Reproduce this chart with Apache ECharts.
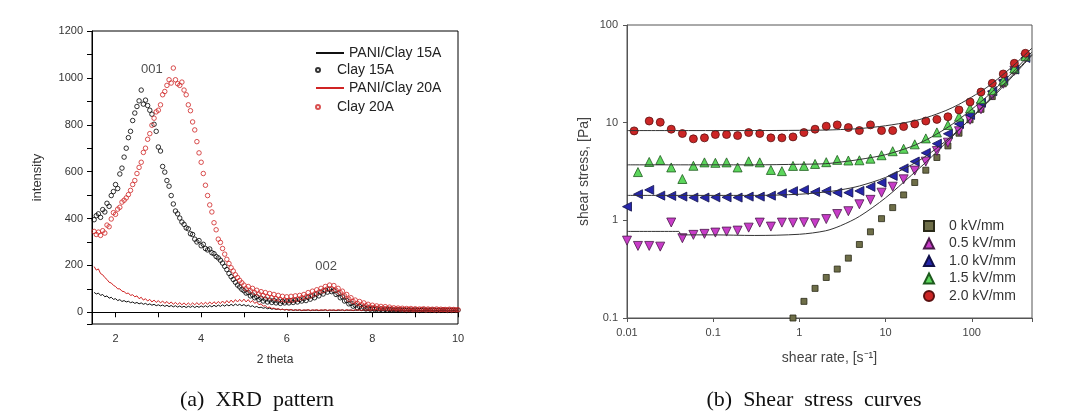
<!DOCTYPE html>
<html><head><meta charset="utf-8">
<script src="https://cdn.jsdelivr.net/npm/echarts@6/dist/echarts.min.js"></script>
<style>html,body{margin:0;padding:0;background:#fff}#c{width:1065px;height:412px}</style>
</head><body><div id="c"></div>
<script>
// ---------- (a) XRD pattern ----------
const theta = [
1.5,1.55,1.6,1.65,1.7,1.75,1.8,1.85,1.9,1.95,
2,2.05,2.1,2.15,2.2,2.25,2.3,2.35,2.4,2.45,
2.5,2.55,2.6,2.65,2.7,2.75,2.8,2.85,2.9,2.95,
3,3.05,3.1,3.15,3.2,3.25,3.3,3.35,3.4,3.45,
3.5,3.55,3.6,3.65,3.7,3.75,3.8,3.85,3.9,3.95,
4,4.05,4.1,4.15,4.2,4.25,4.3,4.35,4.4,4.45,
4.5,4.55,4.6,4.65,4.7,4.75,4.8,4.85,4.9,4.95,
5,5.05,5.1,5.15,5.2,5.25,5.3,5.35,5.4,5.45,
5.5,5.55,5.6,5.65,5.7,5.75,5.8,5.85,5.9,5.95,
6,6.05,6.1,6.15,6.2,6.25,6.3,6.35,6.4,6.45,
6.5,6.55,6.6,6.65,6.7,6.75,6.8,6.85,6.9,6.95,
7,7.05,7.1,7.15,7.2,7.25,7.3,7.35,7.4,7.45,
7.5,7.55,7.6,7.65,7.7,7.75,7.8,7.85,7.9,7.95,
8,8.05,8.1,8.15,8.2,8.25,8.3,8.35,8.4,8.45,
8.5,8.55,8.6,8.65,8.7,8.75,8.8,8.85,8.9,8.95,
9,9.05,9.1,9.15,9.2,9.25,9.3,9.35,9.4,9.45,
9.5,9.55,9.6,9.65,9.7,9.75,9.8,9.85,9.9,9.95,
10];
const paniClay15A = [
85,78,82,72,76,66,70,60,64,55,
58,50,54,46,50,44,47,41,44,38,
42,36,40,34,38,32,36,30,34,28,
32,27,31,25,30,24,29,23,28,22,
27,21,26,20,26,21,27,20,26,21,
27,22,28,22,29,23,30,24,31,25,
32,26,33,27,34,28,35,29,34,28,
33,26,31,24,28,21,25,19,22,17,
20,15,18,13,16,12,14,11,13,10,
12,9,11,8,10,8,10,7,9,8,
10,7,9,8,9,7,9,8,10,7,
9,8,9,7,9,8,10,7,9,8,
9,7,9,8,10,7,9,8,9,7,
9,8,9,7,9,8,10,7,9,8,
9,7,9,8,10,7,9,8,9,7,
9,8,9,7,9,8,10,7,9,8,
9,7,9,8,10,7,9,8,9,7,
9];
const clay15A = [
395,412,420,405,438,428,465,452,498,515,
545,528,590,615,662,700,745,772,818,850,
878,902,948,888,905,882,862,845,802,772,
705,688,622,598,562,538,498,462,432,420,
402,385,375,360,356,335,332,312,300,306,
284,290,272,266,270,254,250,238,232,222,
210,196,182,166,152,140,128,116,108,98,
92,82,84,70,74,62,66,54,60,48,
56,44,52,42,50,40,48,38,46,40,
48,40,50,42,52,44,54,48,58,50,
64,56,70,62,78,70,86,78,94,86,
98,88,92,76,80,62,66,48,50,36,
38,26,30,20,25,17,21,14,18,13,
17,12,15,10,14,9,13,9,12,10,
10,9,11,10,9,10,8,10,9,8,
10,9,8,9,10,8,9,8,10,9,
8,9,8,10,9,8,9,8,9,8,
9];
const paniClay20A = [
195,180,185,165,160,148,140,128,125,115,
110,100,100,90,88,80,82,72,75,66,
70,58,64,52,58,48,55,44,52,42,
50,40,48,38,46,36,44,34,42,33,
41,32,40,31,40,31,40,32,41,32,
42,33,43,34,44,35,45,36,46,37,
48,38,50,40,52,42,54,44,55,45,
56,44,54,42,50,38,44,32,36,26,
28,20,22,16,18,13,15,11,13,10,
12,9,12,8,11,9,11,8,10,9,
11,8,10,9,11,8,10,9,11,8,
10,9,10,8,11,9,10,8,11,9,
10,8,11,9,10,8,11,9,10,8,
10,9,11,8,10,9,11,8,10,9,
11,8,10,9,11,8,10,9,11,8,
10,9,11,8,10,9,11,8,10,9,
11,8,10,9,11,8,10,9,11,8,
10];
const clay20A = [
345,332,342,328,348,338,372,365,398,425,
418,440,448,470,478,488,502,520,545,562,
592,618,640,682,700,738,762,798,828,855,
862,885,928,942,968,992,978,1042,992,975,
968,982,948,928,885,860,812,778,728,680,
640,592,542,498,458,428,382,352,312,298,
272,248,226,208,190,176,160,148,136,126,
116,100,110,92,102,84,94,78,88,72,
84,66,80,62,76,58,72,54,68,52,
66,50,68,52,70,56,72,62,76,66,
84,70,90,78,96,86,102,92,110,100,
116,100,114,94,102,84,90,70,76,56,
62,46,52,38,46,32,40,28,34,22,
30,20,27,18,25,17,24,16,22,15,
19,14,18,13,17,12,16,12,16,11,
15,11,14,12,15,10,14,11,13,10,
14,10,13,11,12,10,13,10,12,10,
11];
const xrdXTicks = ['2','4','6','8','10'];
const xrdYTicks = ['0','200','400','600','800','1000','1200'];
const peakLabels = [[2.85, 1038, '001'], [6.92, 196, '002']];

// ---------- (b) Shear stress curves ----------
const rate0 = [0.843,1.13,1.52,2.05,2.75,3.70,4.97,6.68,8.98,12.1,16.2,21.8,29.3,39.4,52.9,71.1,95.6,128,173,232,312,419];
const stress0 = [0.1,0.148,0.201,0.26,0.317,0.41,0.566,0.763,1.04,1.35,1.82,2.44,3.26,4.4,5.78,7.8,10.7,13.7,18.5,25,34,47];
const rate05 = [0.01,0.0134,0.0181,0.0243,0.0326,0.0439,0.0589,0.0792,0.106,0.143,0.192,0.258,0.347,0.467,0.627,0.843,1.13,1.52,2.05,2.75,3.70,4.97,6.68,8.98,12.1,16.2,21.8,29.3,39.4,52.9,71.1,95.6,128,173,232,312,419];
const stress05 = [0.62,0.547,0.547,0.538,0.95,0.656,0.71,0.727,0.749,0.767,0.785,0.842,0.948,0.863,0.948,0.945,0.955,0.933,1.03,1.16,1.24,1.46,1.62,1.92,2.21,2.63,3.23,3.99,5.13,6.24,8.17,10.7,13.7,19,25,34,46];
const rate10 = [0.01,0.0134,0.0181,0.0243,0.0326,0.0439,0.0589,0.0792,0.106,0.143,0.192,0.258,0.347,0.467,0.627,0.843,1.13,1.52,2.05,2.75,3.70,4.97,6.68,8.98,12.1,16.2,21.8,29.3,39.4,52.9,71.1,95.6,128,173,232,312,419];
const stress10 = [1.38,1.85,2.05,1.79,1.78,1.75,1.71,1.71,1.72,1.72,1.71,1.75,1.75,1.79,1.89,1.99,2.05,1.95,2.0,1.92,1.92,2.0,2.2,2.43,2.85,3.4,4.0,4.9,6.1,7.7,9.7,12,16,21,27,35,46];
const rate15 = [0.0134,0.0181,0.0243,0.0326,0.0439,0.0589,0.0792,0.106,0.143,0.192,0.258,0.347,0.467,0.627,0.843,1.13,1.52,2.05,2.75,3.70,4.97,6.68,8.98,12.1,16.2,21.8,29.3,39.4,52.9,71.1,95.6,128,173,232,312,419];
const stress15 = [3.12,3.96,4.15,3.48,2.65,3.62,3.92,3.88,3.92,3.48,4.02,3.92,3.28,3.19,3.61,3.61,3.78,3.94,4.16,4.1,4.12,4.28,4.64,5.1,5.4,6.0,6.9,7.95,9.46,11.5,14.0,17.5,21.5,27,36,48];
const rate20 = [0.0121,0.0181,0.0243,0.0326,0.0439,0.0589,0.0792,0.106,0.143,0.192,0.258,0.347,0.467,0.627,0.843,1.13,1.52,2.05,2.75,3.70,4.97,6.68,8.98,12.1,16.2,21.8,29.3,39.4,52.9,71.1,95.6,128,173,232,312,419];
const stress20 = [8.24,10.4,10.1,8.57,7.74,6.83,6.99,7.56,7.56,7.38,7.92,7.74,6.99,6.99,7.15,7.92,8.57,9.2,9.49,8.91,8.3,9.49,8.3,8.3,9.12,9.71,10.4,10.8,11.5,13.5,16.3,20.6,25.3,31.5,40.5,51.3];
const fitRate = [0.01,0.04,0.042,0.1,0.3,1,2,3,5,10,20,30,50,70,100,150,200,300,500];
const fit05 = [0.77,0.77,0.71,0.71,0.7,0.72,0.78,0.88,1.1,1.7,2.9,4.0,6.2,8.3,11.4,16.3,21.3,31,50];
const fit10 = [1.8,1.8,1.8,1.8,1.8,1.85,1.95,2.05,2.25,2.75,3.7,4.6,6.5,8.4,11.2,15.8,20.5,30,49];
const fit15 = [3.7,3.7,3.7,3.7,3.7,3.75,3.8,3.95,4.2,4.7,5.7,6.7,8.7,10.7,13.7,18.5,23.5,33,53];
const fit20 = [8.3,8.3,8.3,8.3,8.3,8.35,8.4,8.5,8.7,9.3,10.3,11.3,13.3,15.3,18.3,23,28,38,58];
const rateTicks = ['0.01','0.1','1','10','100'];
const stressTicks = ['0.1','1','10','100'];
const fieldNames = ['0 kV/mm','0.5 kV/mm','1.0 kV/mm','1.5 kV/mm','2.0 kV/mm'];

const FONT = '"Liberation Sans", Arial, sans-serif';
const zip = (xs, ys) => xs.map((x, i) => [x, ys[i]]);
const fmtNum = v => String(Math.round(v * 10000) / 10000);

const chart = echarts.init(document.getElementById('c'), null, {renderer: 'canvas'});

const sym = (name, rateArr, stressArr, shape, rot, size, fill, border) => ({
  name, type: 'scatter', xAxisIndex: 1, yAxisIndex: 1,
  data: zip(rateArr, stressArr), symbol: shape, symbolRotate: rot, symbolSize: size,
  itemStyle: {color: fill, borderColor: border, borderWidth: 0.8, opacity: 1}
});
const fitLine = (ys) => ({
  type: 'line', xAxisIndex: 1, yAxisIndex: 1, data: zip(fitRate, ys), symbol: 'none',
  smooth: 0.3, silent: true, lineStyle: {color: '#333', width: 1}, z: 3
});
const legTxt = {fontSize: 14, color: '#222', fontFamily: FONT, lineHeight: 14};
const hiddenSym = {color: 'rgba(0,0,0,0)', borderColor: 'rgba(0,0,0,0)', borderWidth: 0, opacity: 0};

const option = {
  backgroundColor: '#fff',
  animation: false,
  grid: [
    {left: 92, top: 31, width: 366, height: 293, show: true, borderColor: '#000', borderWidth: 1},
    {left: 627, top: 25, width: 405, height: 293, show: true, borderColor: '#555', borderWidth: 1}
  ],
  xAxis: [
    {type: 'value', gridIndex: 0, min: 1.45, max: 10, splitNumber: 9,
     axisLine: {lineStyle: {color: '#000', width: 1}},
     axisTick: {inside: false, length: 5, lineStyle: {color: '#000'}},
     axisLabel: {color: '#333', fontSize: 11, fontFamily: FONT, margin: 9,
       formatter: v => xrdXTicks.includes(fmtNum(v)) ? fmtNum(v) : ''},
     splitLine: {show: false},
     name: '2 theta', nameLocation: 'middle', nameGap: 30,
     nameTextStyle: {color: '#333', fontSize: 12, fontFamily: FONT}},
    {type: 'log', gridIndex: 1, min: 0.01, max: 500, logBase: 10,
     axisLine: {lineStyle: {color: '#555', width: 1}},
     axisTick: {inside: false, length: 4, lineStyle: {color: '#555'}},
     axisLabel: {color: '#444', fontSize: 11, fontFamily: FONT, margin: 9,
       formatter: v => rateTicks.includes(fmtNum(v)) ? fmtNum(v) : ''},
     splitLine: {show: false}, minorTick: {show: false},
     name: 'shear rate, [s\u207B\u00B9]', nameLocation: 'middle', nameGap: 33,
     nameTextStyle: {color: '#444', fontSize: 14, fontFamily: FONT}}
  ],
  yAxis: [
    {type: 'value', gridIndex: 0, min: -50, max: 1200, splitNumber: 12,
     axisLine: {lineStyle: {color: '#000', width: 1}},
     axisTick: {inside: false, length: 5, lineStyle: {color: '#000'}},
     axisLabel: {color: '#333', fontSize: 11, fontFamily: FONT, margin: 9,
       formatter: v => xrdYTicks.includes(fmtNum(v)) ? fmtNum(v) : ''},
     splitLine: {show: false},
     name: 'intensity', nameLocation: 'middle', nameGap: 48, nameRotate: 90,
     nameTextStyle: {color: '#333', fontSize: 13, fontFamily: FONT}},
    {type: 'log', gridIndex: 1, min: 0.1, max: 100, logBase: 10,
     axisLine: {lineStyle: {color: '#555', width: 1}},
     axisTick: {inside: false, length: 4, lineStyle: {color: '#555'}},
     axisLabel: {color: '#444', fontSize: 11, fontFamily: FONT, margin: 9,
       formatter: v => stressTicks.includes(fmtNum(v)) ? fmtNum(v) : ''},
     splitLine: {show: false}, minorTick: {show: false},
     name: 'shear stress, [Pa]', nameLocation: 'middle', nameGap: 36, nameRotate: 90,
     nameTextStyle: {color: '#444', fontSize: 14, fontFamily: FONT}}
  ],
  legend: [
    {data: ['PANI/Clay 15A'], left: 315, top: 46, padding: 0, orient: 'vertical', itemWidth: 28, itemHeight: 14,
     itemStyle: hiddenSym, selectedMode: false, textStyle: legTxt},
    {data: ['Clay 15A'], left: 315, top: 63, padding: 0, orient: 'vertical', itemWidth: 28, itemHeight: 4,
     selectedMode: false, textStyle: legTxt},
    {data: ['PANI/Clay 20A'], left: 315, top: 81, padding: 0, orient: 'vertical', itemWidth: 28, itemHeight: 14,
     itemStyle: hiddenSym, selectedMode: false, textStyle: legTxt},
    {data: ['Clay 20A'], left: 315, top: 100, padding: 0, orient: 'vertical', itemWidth: 28, itemHeight: 4,
     selectedMode: false, textStyle: legTxt},
    {data: fieldNames, left: 923, top: 219, padding: 0, orient: 'vertical', itemWidth: 10, itemHeight: 10, itemGap: 3.5,
     selectedMode: false,
     textStyle: {fontSize: 14, color: '#333', fontFamily: FONT, lineHeight: 14, padding: [0, 0, 0, 10]}}
  ],
  series: [
    {name: 'PANI/Clay 15A', type: 'line', xAxisIndex: 0, yAxisIndex: 0, data: zip(theta, paniClay15A),
     symbol: 'none', lineStyle: {color: '#111', width: 1}, itemStyle: {color: '#111'}},
    {name: 'Clay 15A', type: 'scatter', xAxisIndex: 0, yAxisIndex: 0, data: zip(theta, clay15A),
     symbol: 'circle', symbolSize: 4.5,
     itemStyle: {color: 'rgba(255,255,255,0)', borderColor: '#000', borderWidth: 1}},
    {name: 'PANI/Clay 20A', type: 'line', xAxisIndex: 0, yAxisIndex: 0, data: zip(theta, paniClay20A),
     symbol: 'none', lineStyle: {color: '#d02424', width: 1}, itemStyle: {color: '#d02424'}},
    {name: 'Clay 20A', type: 'scatter', xAxisIndex: 0, yAxisIndex: 0, data: zip(theta, clay20A),
     symbol: 'circle', symbolSize: 4.5,
     itemStyle: {color: 'rgba(255,255,255,0)', borderColor: '#d02424', borderWidth: 1}},
    {type: 'scatter', xAxisIndex: 0, yAxisIndex: 0, data: peakLabels, symbolSize: 1, silent: true,
     itemStyle: {color: 'rgba(0,0,0,0)'},
     label: {show: true, position: 'inside', formatter: p => p.data[2], fontSize: 13, color: '#222', fontFamily: FONT}},
    sym(fieldNames[0], rate0, stress0, 'rect', 0, 6, '#6e6e48', '#2a2a18'),
    sym(fieldNames[1], rate05, stress05, 'triangle', 180, 9, '#c83cc8', '#4a1a4a'),
    sym(fieldNames[2], rate10, stress10, 'triangle', 90, 9, '#2626aa', '#10104a'),
    sym(fieldNames[3], rate15, stress15, 'triangle', 0, 9, '#5cd65c', '#1e5a1e'),
    sym(fieldNames[4], rate20, stress20, 'circle', 0, 8, '#cc2626', '#5a1010'),
    fitLine(fit05), fitLine(fit10), fitLine(fit15), fitLine(fit20)
  ],
  graphic: [
    {type: 'text', x: 257, y: 400, style: {text: '(a)  XRD  pattern', font: '22px "Liberation Serif", "Times New Roman", serif',
      fill: '#111', align: 'center', verticalAlign: 'middle'}},
    {type: 'text', x: 814, y: 400, style: {text: '(b)  Shear  stress  curves', font: '22px "Liberation Serif", "Times New Roman", serif',
      fill: '#111', align: 'center', verticalAlign: 'middle'}}
  ]
};
chart.setOption(option);
</script>
</body></html>
